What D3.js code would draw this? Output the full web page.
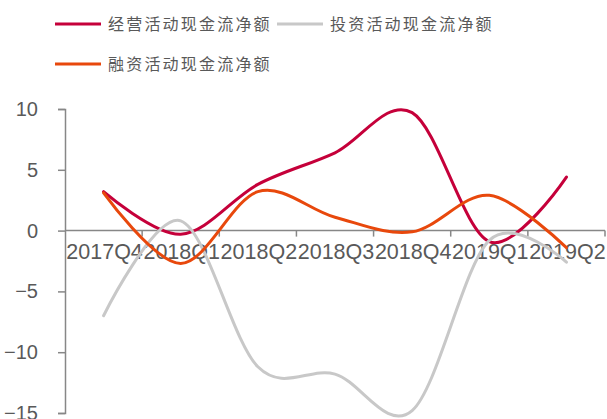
<!DOCTYPE html>
<html>
<head>
<meta charset="utf-8">
<script src="https://cdn.jsdelivr.net/npm/d3@7"></script>
<style>
  body { margin: 0; background: #fff; }
  svg { display: block; }
</style>
</head>
<body>
<svg width="607" height="419"></svg>
<script>
// quarters and the three cash flow series
var quarters = ["2017Q4", "2018Q1", "2018Q2", "2018Q3", "2018Q4", "2019Q1", "2019Q2"];
var operating = [3.2, -0.3, 3.8, 6.4, 9.7, -0.9, 4.4];
var investing = [-7.0, 0.8, -11.2, -11.8, -14.8, -0.8, -2.6];
var financing = [3.1, -2.7, 3.2, 1.1, -0.1, 2.9, -1.4];
var yTicks = [-15, -10, -5, 0, 5, 10];

var seriesNames = ["经营活动现金流净额", "投资活动现金流净额", "融资活动现金流净额"];
var seriesColors = ["#C5003A", "#C8C8C8", "#E8480C"];

var svg = d3.select("svg"),
    margin = {top: 109, right: 2, bottom: 6, left: 65},
    width = 605 - margin.left,
    height = 413 - margin.top;

var x = d3.scaleBand().domain(quarters).range([0, width]),
    y = d3.scaleLinear().domain([-15, 10]).range([height, 0]);

var g = svg.append("g")
    .attr("transform", "translate(" + margin.left + "," + margin.top + ")");

var axisColor = "#878787", textColor = "#595959";

// y axis
var yAxis = g.append("g")
    .call(d3.axisLeft(y).tickValues(yTicks).tickSize(7).tickPadding(20).tickFormat(d3.format("d")));
yAxis.select(".domain").attr("stroke", axisColor).attr("stroke-width", 1.5);
yAxis.selectAll(".tick line").attr("stroke", axisColor).attr("stroke-width", 1.5);
yAxis.selectAll("text")
    .attr("fill", textColor)
    .style("font-family", "'Liberation Sans', Arial, sans-serif")
    .style("font-size", "20px");

// x axis sits on zero, ticks between categories
var xAxis = g.append("g")
    .attr("transform", "translate(0," + y(0) + ")");
xAxis.append("line")
    .attr("x1", 0).attr("x2", width)
    .attr("stroke", axisColor).attr("stroke-width", 1.5);
xAxis.selectAll(".qtick")
    .data(quarters)
    .enter().append("line")
      .attr("class", "qtick")
      .attr("x1", function(d) { return x(d) + x.bandwidth(); })
      .attr("x2", function(d) { return x(d) + x.bandwidth(); })
      .attr("y1", 0).attr("y2", 6)
      .attr("stroke", axisColor).attr("stroke-width", 1.5);
xAxis.selectAll(".qlabel")
    .data(quarters)
    .enter().append("text")
      .attr("class", "qlabel")
      .attr("x", function(d) { return x(d) + x.bandwidth() / 2 + 1; })
      .attr("y", 28)
      .attr("text-anchor", "middle")
      .attr("fill", textColor)
      .style("font-family", "'Liberation Sans', Arial, sans-serif")
      .style("font-size", "21.5px")
      .text(function(d) { return d; });

// smoothed lines, drawn in series order
var line = d3.line()
    .x(function(d, i) { return x(quarters[i]) + x.bandwidth() / 2; })
    .y(function(d) { return y(d); })
    .curve(d3.curveCardinal);

[operating, investing, financing].forEach(function(vals, i) {
  g.append("path")
      .datum(vals)
      .attr("fill", "none")
      .attr("stroke", seriesColors[i])
      .attr("stroke-width", 3)
      .attr("stroke-linecap", "round")
      .attr("d", line);
});

// legend
var legendPos = [[55, 24], [277, 24], [55, 64]];
var legend = svg.selectAll(".legend")
    .data(seriesNames)
    .enter().append("g")
      .attr("class", "legend")
      .attr("transform", function(d, i) { return "translate(" + legendPos[i][0] + "," + legendPos[i][1] + ")"; });
legend.append("line")
    .attr("x1", 0).attr("x2", 46)
    .attr("stroke", function(d, i) { return seriesColors[i]; })
    .attr("stroke-width", 3);
legend.append("text")
    .attr("x", 53)
    .attr("y", 6)
    .attr("fill", textColor)
    .style("font-family", "'Noto Sans CJK SC', sans-serif")
    .style("font-size", "16px")
    .style("letter-spacing", "2.2px")
    .text(function(d) { return d; });
</script>
</body>
</html>
